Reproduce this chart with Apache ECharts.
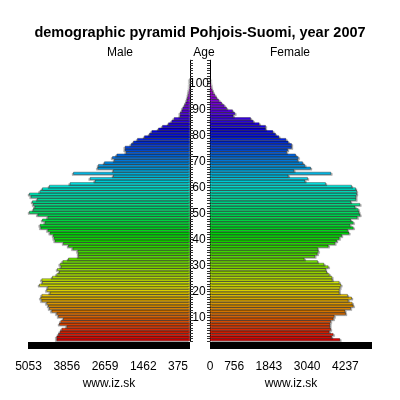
<!DOCTYPE html>
<html>
<head>
<meta charset="utf-8">
<script src="https://cdn.jsdelivr.net/npm/echarts@6/dist/echarts.min.js"></script>
<style>
  html, body { margin: 0; padding: 0; background: #fff; }
  #pyramid { width: 400px; height: 400px; }
</style>
</head>
<body>
<div id="pyramid"></div>
<script>
// ages 0..107 on the axis, data only up to 100
var ages = [];
for (var i = 0; i <= 107; i++) ages.push(i);

// men, age 0 first
var male = [
  4174, 4174, 4122, 4069, 4017, 3860, 4090, 4048, 3965, 4122,
  4174, 4330, 4403, 4434, 4487, 4643, 4674, 4643, 4382, 4487,
  4455, 4716, 4622, 4643, 4309, 4174, 4090, 4153, 4038, 4069,
  3985, 3808, 3495, 3495, 3516, 3672, 3808, 3965, 4226, 4257,
  4278, 4382, 4455, 4674, 4695, 4539, 4622, 4455, 4768, 5029,
  4904, 4862, 4904, 4935, 4778, 4977, 5029, 4700, 4622, 4403,
  3756, 2974, 3130, 2400, 3651, 2400, 2890, 2869, 2681, 2368,
  2431, 2295, 2003, 2035, 2035, 1847, 1773, 1648, 1429, 1273,
  1200, 991, 866, 678, 574, 501, 313, 313, 261, 230,
  177, 136, 104, 80, 60, 45, 30, 20, 12, 6,
  4
];

// women, age 0 first
var female = [
  4069, 3808, 3860, 3735, 3777, 3756, 3756, 3777, 3860, 3891,
  4247, 4226, 4403, 4487, 4455, 4330, 4434, 4309, 4048, 4048,
  4069, 4100, 4048, 3829, 3819, 3735, 3652, 3620, 3704, 3568,
  3370, 2953, 3286, 3359, 3391, 3370, 3704, 3912, 3965, 4048,
  4122, 4351, 4309, 4487, 4382, 4487, 4403, 4612, 4695, 4664,
  4643, 4539, 4695, 4403, 4570, 4570, 4591, 4591, 4560, 4434,
  3620, 2974, 3057, 2452, 3787, 2629, 3151, 2974, 2900, 2744,
  2765, 2681, 2400, 2431, 2556, 2556, 2452, 2379, 2160, 2055,
  1972, 1742, 1742, 1544, 1357, 1273, 730, 783, 709, 522,
  449, 365, 282, 209, 156, 104, 70, 45, 30, 15,
  10
];

var maleTicks = [375, 1462, 2659, 3856, 5053];
var femaleTicks = [0, 756, 1843, 3040, 4237];
var xMax = 5070;

var font = 'Liberation Sans';

// rainbow by age, red at 0 -> magenta at 100
function ageColor(p) {
  return 'hsl(' + (p.dataIndex * 3) + ', 100%, 50%)';
}

function barStyle(side) {
  return {
    color: ageColor,
    borderColor: '#111',
    borderWidth: 0.4,
    shadowColor: 'rgba(0,0,0,0.3)',
    shadowBlur: 0,
    shadowOffsetX: side * 1.5,
    shadowOffsetY: 1
  };
}

function xAxisFor(idx, ticks, inverse) {
  return {
    type: 'value',
    gridIndex: idx,
    min: 0,
    max: xMax,
    inverse: inverse,
    offset: 4.5,
    name: 'www.iz.sk',
    nameLocation: 'middle',
    nameGap: 30,
    nameTextStyle: { fontFamily: font, fontSize: 12, color: '#000' },
    axisLine: { show: true, lineStyle: { color: '#000', width: 7, cap: 'butt' } },
    axisTick: { show: false },
    splitLine: { show: false },
    axisLabel: {
      customValues: ticks,
      margin: 15,
      fontFamily: font,
      fontSize: 12,
      color: '#000',
      formatter: function (v) { return String(v); }
    }
  };
}

function yAxisFor(idx, pos, labels) {
  return {
    type: 'category',
    gridIndex: idx,
    position: pos,
    data: ages,
    axisLine: { show: true, lineStyle: { color: '#000', width: 1 } },
    axisTick: { show: true, interval: 0, length: 3, lineStyle: { color: '#333' } },
    splitLine: { show: false },
    axisLabel: {
      show: labels,
      interval: 0,
      margin: 9,
      align: 'center',
      verticalAlign: 'top',
      lineHeight: 7,
      fontFamily: font,
      fontSize: 12,
      color: '#000',
      formatter: function (v) {
        v = +v;
        return (v > 0 && v <= 100 && v % 10 === 0) ? String(v) : '';
      }
    }
  };
}

var chart = echarts.init(document.getElementById('pyramid'));
chart.setOption({
  animation: false,
  backgroundColor: '#fff',
  title: [
    {
      text: 'demographic pyramid Pohjois-Suomi, year 2007',
      left: 'center', top: 20,
      textStyle: { fontFamily: font, fontSize: 14.5, fontWeight: 'bold', color: '#000' }
    },
    { text: 'Male', left: 115, top: 42, textAlign: 'center',
      textStyle: { fontFamily: font, fontSize: 12, fontWeight: 'normal', color: '#000' } },
    { text: 'Age', left: 199, top: 42, textAlign: 'center',
      textStyle: { fontFamily: font, fontSize: 12, fontWeight: 'normal', color: '#000' } },
    { text: 'Female', left: 285, top: 42, textAlign: 'center',
      textStyle: { fontFamily: font, fontSize: 12, fontWeight: 'normal', color: '#000' } }
  ],
  grid: [
    { left: 28, top: 60.2, width: 162, height: 280.8 },
    { left: 210, top: 60.2, width: 162, height: 280.8 }
  ],
  xAxis: [
    xAxisFor(0, maleTicks, true),
    xAxisFor(1, femaleTicks, false)
  ],
  yAxis: [
    yAxisFor(0, 'right', true),
    yAxisFor(1, 'left', false)
  ],
  series: [
    {
      name: 'Male', type: 'bar', xAxisIndex: 0, yAxisIndex: 0,
      data: male, barCategoryGap: '0%',
      itemStyle: barStyle(-1)
    },
    {
      name: 'Female', type: 'bar', xAxisIndex: 1, yAxisIndex: 1,
      data: female, barCategoryGap: '0%',
      itemStyle: barStyle(1)
    }
  ]
});
</script>
</body>
</html>
